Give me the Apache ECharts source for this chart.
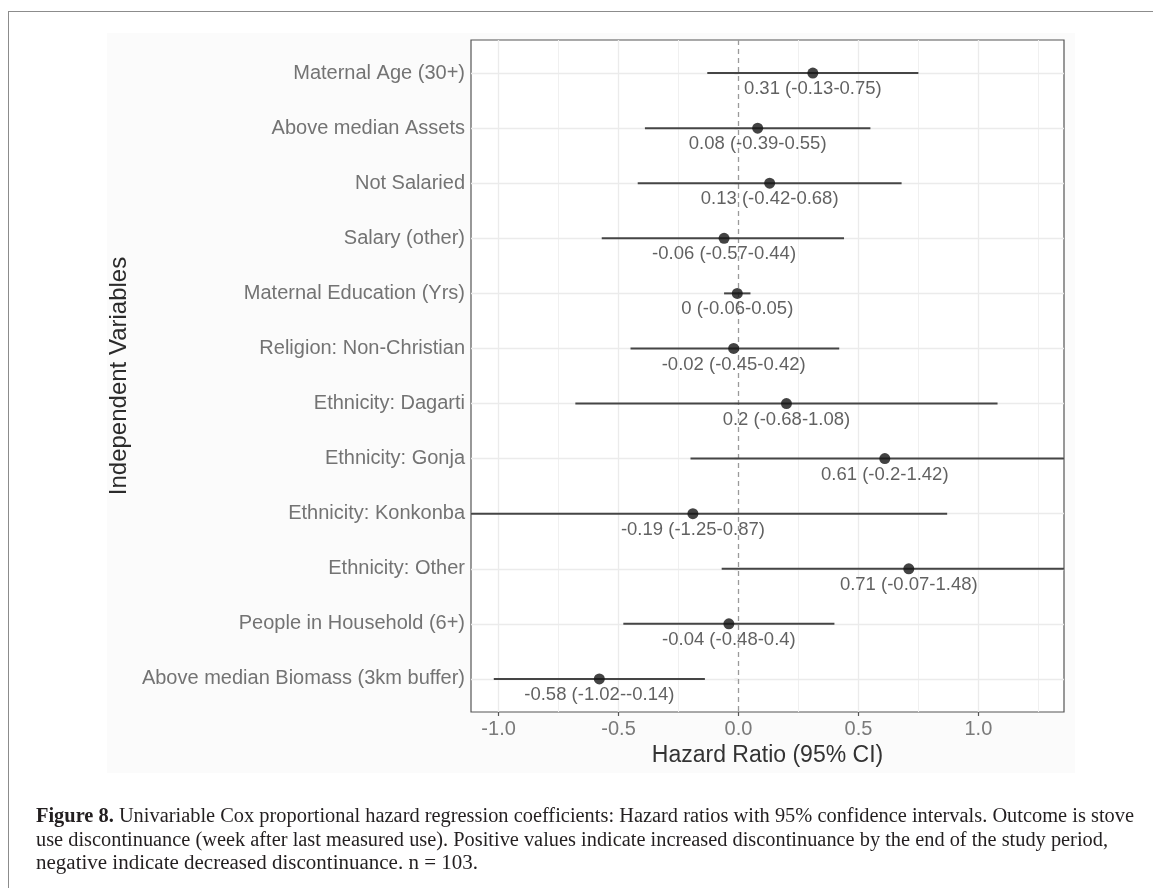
<!DOCTYPE html>
<html><head><meta charset="utf-8">
<script src="https://cdn.jsdelivr.net/npm/echarts@6/dist/echarts.min.js"></script>
<style>
html,body{margin:0;padding:0;background:#fff;}
#wrap{position:relative;width:1153px;height:888px;overflow:hidden;background:#fff;}
#frame{position:absolute;left:8px;top:11px;width:1300px;height:1000px;border-left:1.5px solid #8c8c8c;border-top:1.5px solid #8c8c8c;}
#plotbg{position:absolute;left:107px;top:33px;width:968px;height:740px;background:#fbfbfb;}
#chart{position:absolute;left:0;top:0;width:1153px;height:888px;}
#cap{position:absolute;left:0;top:0;pointer-events:none;}
</style></head><body>
<div id="wrap">
<div id="frame"></div>
<div id="plotbg"></div>
<div id="chart"></div>
<svg id="cap" width="1153" height="888" xmlns="http://www.w3.org/2000/svg" font-family="'Liberation Serif','DejaVu Serif',serif" font-size="20" fill="#231f20">
<text x="36" y="821.5" textLength="1098" lengthAdjust="spacingAndGlyphs"><tspan font-weight="bold">Figure 8.</tspan> Univariable Cox proportional hazard regression coefficients: Hazard ratios with 95% confidence intervals. Outcome is stove</text>
<text x="36" y="845.5" textLength="1072" lengthAdjust="spacingAndGlyphs">use discontinuance (week after last measured use). Positive values indicate increased discontinuance by the end of the study period,</text>
<text x="36" y="868.5" textLength="442" lengthAdjust="spacingAndGlyphs">negative indicate decreased discontinuance. n = 103.</text>
</svg>
</div>
<script>
const categories = [
  'Maternal Age (30+)',
  'Above median Assets',
  'Not Salaried',
  'Salary (other)',
  'Maternal Education (Yrs)',
  'Religion: Non-Christian',
  'Ethnicity: Dagarti',
  'Ethnicity: Gonja',
  'Ethnicity: Konkonba',
  'Ethnicity: Other',
  'People in Household (6+)',
  'Above median Biomass (3km buffer)'
];
const estimates = [0.31, 0.08, 0.13, -0.06, -0.005, -0.02, 0.2, 0.61, -0.19, 0.71, -0.04, -0.58];
const lowerCI   = [-0.13, -0.39, -0.42, -0.57, -0.06, -0.45, -0.68, -0.2, -1.25, -0.07, -0.48, -1.02];
const upperCI   = [0.75, 0.55, 0.68, 0.44, 0.05, 0.42, 1.08, 1.42, 0.87, 1.48, 0.4, -0.14];
const pointLabels = [
  '0.31 (-0.13-0.75)',
  '0.08 (-0.39-0.55)',
  '0.13 (-0.42-0.68)',
  '-0.06 (-0.57-0.44)',
  '0 (-0.06-0.05)',
  '-0.02 (-0.45-0.42)',
  '0.2 (-0.68-1.08)',
  '0.61 (-0.2-1.42)',
  '-0.19 (-1.25-0.87)',
  '0.71 (-0.07-1.48)',
  '-0.04 (-0.48-0.4)',
  '-0.58 (-1.02--0.14)'
];
const xTickValues = [-1, -0.5, 0, 0.5, 1];
const xMinorGridValues = [-0.75, -0.25, 0.25, 0.75, 1.25];

const rowPos = categories.map((c, i) => i + 1);
const FONT = "'Liberation Sans', Arial, sans-serif";

const chart = echarts.init(document.getElementById('chart'), null, {renderer: 'canvas'});

const gridLineData = []
  .concat(xMinorGridValues.map(v => ({xAxis: v, lineStyle: {color: '#f0f0f0', width: 1}})))
  .concat(xTickValues.filter(v => v !== 0).map(v => ({xAxis: v, lineStyle: {color: '#ebebeb', width: 1.3}})))
  .concat(rowPos.map(v => ({yAxis: v, lineStyle: {color: '#ebebeb', width: 1.3}})));

const option = {
  animation: false,
  backgroundColor: 'transparent',
  grid: {
    left: 471, top: 40, width: 593, height: 672,
    show: true, borderColor: '#555555', borderWidth: 1.2, backgroundColor: '#ffffff',
    outerBoundsMode: 'none'
  },
  xAxis: {
    type: 'value', min: -1.115, max: 1.357,
    axisLine: {show: false},
    axisTick: {show: true, customValues: xTickValues, length: 4, lineStyle: {color: '#555', width: 1.2}},
    axisLabel: {customValues: xTickValues, formatter: v => v.toFixed(1), fontSize: 20, color: '#7a7a7a', fontFamily: FONT, margin: 7},
    splitLine: {show: false},
    name: 'Hazard Ratio (95% CI)', nameLocation: 'middle', nameGap: 29,
    nameTextStyle: {fontSize: 23, color: '#333333', fontFamily: FONT}
  },
  yAxis: {
    type: 'value', inverse: true, min: 0.4, max: 12.6,
    axisLine: {show: false},
    axisTick: {show: true, customValues: rowPos, length: 4, lineStyle: {color: '#555', width: 1.2}},
    axisLabel: {customValues: rowPos, formatter: v => categories[Math.round(v) - 1] || '', fontSize: 20, color: '#737373', fontFamily: FONT, margin: 6},
    splitLine: {show: false},
    name: 'Independent Variables', nameLocation: 'middle', nameGap: 337, nameRotate: 90,
    nameTextStyle: {fontSize: 24, color: '#2b2b2b', fontFamily: FONT}
  },
  series: [
    {
      type: 'scatter', silent: true, symbolSize: 0, data: [], z: 1,
      markLine: {silent: true, symbol: 'none', label: {show: false}, animation: false, z: 1,
        lineStyle: {type: 'solid'}, data: gridLineData}
    },
    {
      type: 'scatter', silent: true, symbolSize: 0, data: [], z: 2,
      markLine: {silent: true, symbol: 'none', label: {show: false}, animation: false, z: 2,
        lineStyle: {type: [5, 4], color: '#9a9a9a', width: 1.3}, data: [{xAxis: 0}]}
    },
    {
      type: 'custom', z: 10, clip: true,
      data: rowPos.map((p, i) => [lowerCI[i], upperCI[i], p]),
      encode: {x: [0, 1], y: 2},
      renderItem: function (params, api) {
        const cs = params.coordSys;
        const p1 = api.coord([api.value(0), api.value(2)]);
        const p2 = api.coord([api.value(1), api.value(2)]);
        const x1 = Math.max(p1[0], cs.x);
        const x2 = Math.min(p2[0], cs.x + cs.width);
        return {type: 'line', shape: {x1: x1, y1: p1[1], x2: x2, y2: p2[1]},
          style: {stroke: '#454545', lineWidth: 2}};
      }
    },
    {
      type: 'scatter', z: 11, symbol: 'circle', symbolSize: 11,
      itemStyle: {color: '#141414'},
      data: rowPos.map((p, i) => [estimates[i], p]),
      label: {
        show: true, position: 'inside', offset: [0, 16],
        formatter: params => pointLabels[params.dataIndex],
        fontSize: 18.5, color: '#3a3a3a', fontFamily: FONT
      }
    }
  ]
};
chart.setOption(option);
</script>
</body></html>
